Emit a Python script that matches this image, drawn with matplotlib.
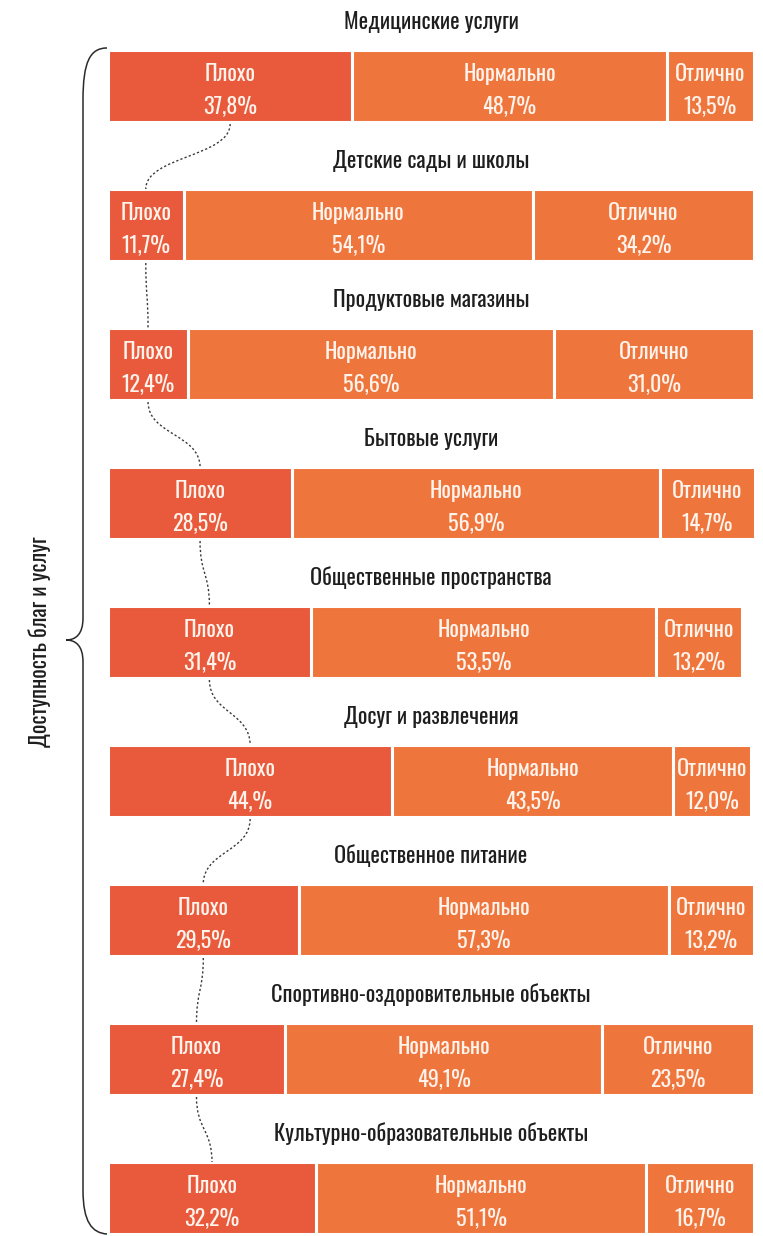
import matplotlib
matplotlib.use("Agg")
import matplotlib.pyplot as plt
from matplotlib.path import Path
from matplotlib.patches import PathPatch
from matplotlib import font_manager

# --- data -------------------------------------------------------------
categories = [
    "Медицинские услуги",
    "Детские сады и школы",
    "Продуктовые магазины",
    "Бытовые услуги",
    "Общественные пространства",
    "Досуг и развлечения",
    "Общественное питание",
    "Спортивно-оздоровительные объекты",
    "Культурно-образовательные объекты",
]
ratings = ["Плохо", "Нормально", "Отлично"]
bad = [37.8, 11.7, 12.4, 28.5, 31.4, 44.0, 29.5, 27.4, 32.2]
normal = [48.7, 54.1, 56.6, 56.9, 53.5, 43.5, 57.3, 49.1, 51.1]
excellent = [13.5, 34.2, 31.0, 14.7, 13.2, 12.0, 13.2, 23.5, 16.7]
value_labels = [
    ["37,8%", "48,7%", "13,5%"],
    ["11,7%", "54,1%", "34,2%"],
    ["12,4%", "56,6%", "31,0%"],
    ["28,5%", "56,9%", "14,7%"],
    ["31,4%", "53,5%", "13,2%"],
    ["44,%", "43,5%", "12,0%"],
    ["29,5%", "57,3%", "13,2%"],
    ["27,4%", "49,1%", "23,5%"],
    ["32,2%", "51,1%", "16,7%"],
]
axis_title = "Доступность благ и услуг"

# --- style ------------------------------------------------------------
installed = {f.name for f in font_manager.fontManager.ttflist}
family = [f for f in ["Oswald", "Roboto Condensed", "DejaVu Sans"]
          if f in installed]
plt.rcParams["font.family"] = family
plt.rcParams["font.weight"] = 300
colors = ["#E85A3B", "#EE763D", "#EE763D"]
fs = 16

W, H, DPI = 763, 1236, 100
fig = plt.figure(figsize=(W / DPI, H / DPI), dpi=DPI)

# main axes: x in percent, y in row index
left_px, right_px = 108, 754
row0_px, step_px, bar_px = 86, 139, 72
ax = fig.add_axes([left_px / W, 0, (right_px - left_px) / W, 1])
ax.set_xlim(0, 100)
ax.set_ylim((H - row0_px) / step_px, -row0_px / step_px)
ax.axis("off")

bar_h = bar_px / step_px
n = len(categories)
for i in range(n):
    vals = [bad[i], normal[i], excellent[i]]
    start = 0.0
    for j, v in enumerate(vals):
        ax.barh(i, v, left=start, height=bar_h, color=colors[j],
                edgecolor="white", linewidth=2.2)
        cx = start + v / 2
        ax.text(cx, i - 5 / step_px, ratings[j], ha="center", va="baseline",
                color="#FFF3EC", fontsize=fs)
        ax.text(cx, i + 27 / step_px, value_labels[i][j], ha="center",
                va="baseline", color="#FFF3EC", fontsize=fs)
        start += v
    ax.text(50, i - 57 / step_px, categories[i], ha="center", va="baseline",
            color="#1E1E1E", fontsize=fs)

# dotted S-curves linking the centres of the "Плохо" segments
for i in range(n - 1):
    x0, x1 = bad[i] / 2, bad[i + 1] / 2
    y0 = i + bar_h / 2 + 2 / step_px
    y1 = i + 1 - bar_h / 2
    ym = (y0 + y1) / 2
    p = Path([(x0, y0), (x0, ym), (x1, ym), (x1, y1)],
             [Path.MOVETO, Path.CURVE4, Path.CURVE4, Path.CURVE4])
    ax.add_patch(PathPatch(p, fill=False, edgecolor="#3A3A3A", lw=1.0,
                           linestyle=(0, (1.6, 1.6)), clip_on=False))

# overlay in pixel coordinates for the brace and its caption
ov = fig.add_axes([0, 0, 1, 1], zorder=-1)
ov.set_xlim(0, W)
ov.set_ylim(H, 0)
ov.axis("off")
M, C, L = Path.MOVETO, Path.CURVE4, Path.LINETO
brace = Path(
    [(107, 48), (90, 48), (83, 62), (83, 100),
     (83, 618),
     (83, 634), (76, 640), (66, 640),
     (76, 640), (83, 646), (83, 662),
     (83, 1190),
     (83, 1222), (92, 1233), (107, 1234)],
    [M, C, C, C, L, C, C, C, C, C, C, L, C, C, C])
ov.add_patch(PathPatch(brace, fill=False, edgecolor="#2A2A2A", lw=1.1))
ov.text(40, 642, axis_title, rotation=90, ha="center", va="center",
        color="#1E1E1E", fontsize=fs)

fig.savefig("out.png", dpi=DPI)
